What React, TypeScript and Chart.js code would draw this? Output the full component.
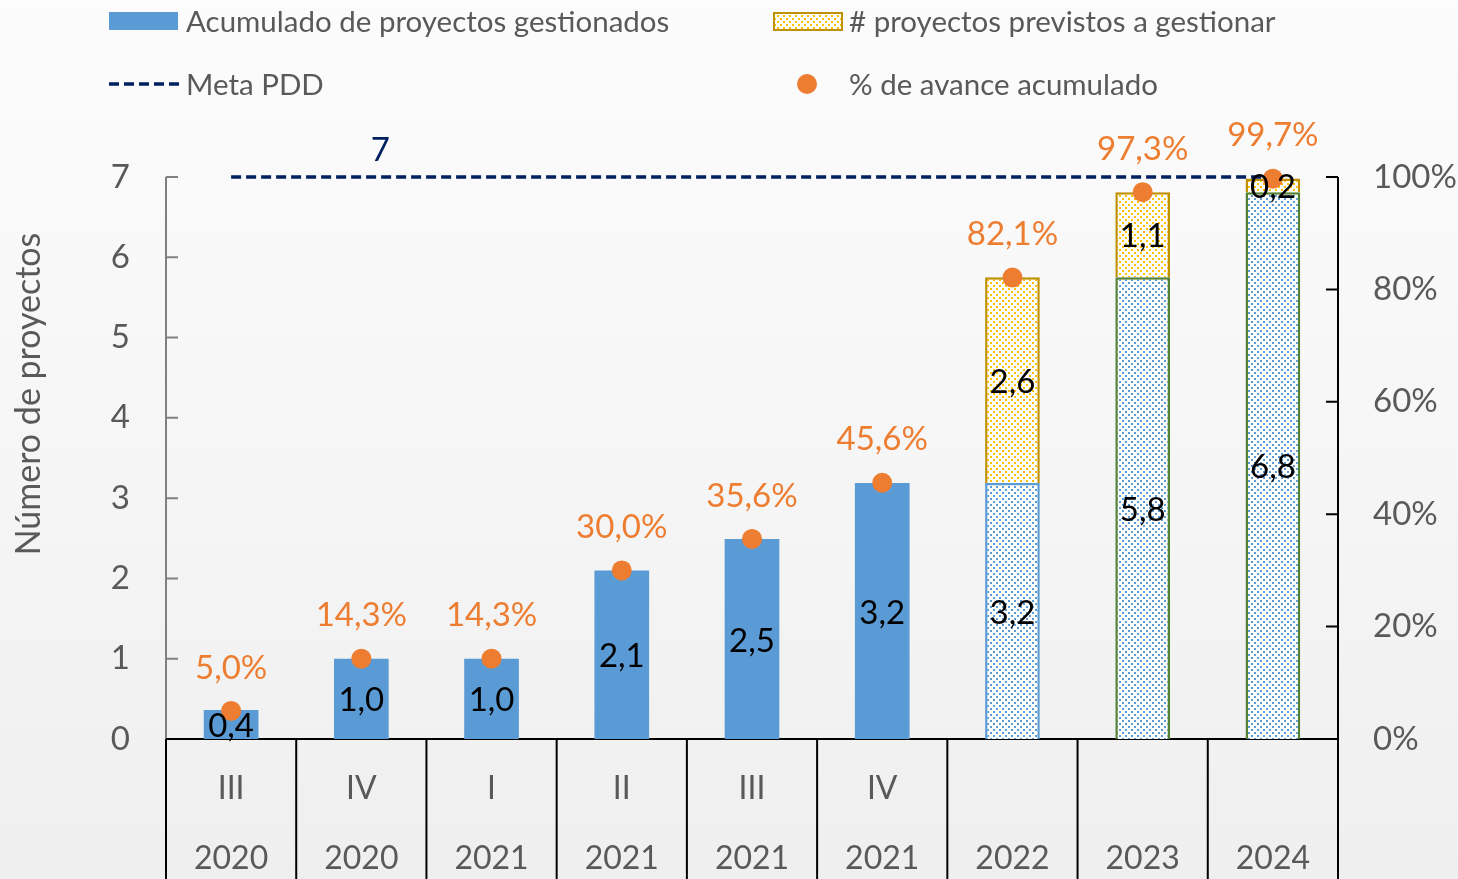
import { useEffect, useRef } from 'react';
import { Chart, registerables } from 'chart.js';

Chart.register(...registerables);

// ---- data ----
const quarters = ['III', 'IV', 'I', 'II', 'III', 'IV', '', '', ''];
const years = ['2020', '2020', '2021', '2021', '2021', '2021', '2022', '2023', '2024'];
const gestionados = [0.36, 1.0, 1.0, 2.1, 2.49, 3.19, 3.19, 5.75, 6.81];
const previstos: (number | null)[] = [null, null, null, null, null, null, 2.56, 1.06, 0.17];
const metaPDD = [7, 7, 7, 7, 7, 7, 7, 7, 7];
const avance = [5.0, 14.3, 14.3, 30.0, 35.6, 45.6, 82.1, 97.3, 99.7];
const leftTicks = [0, 1, 2, 3, 4, 5, 6, 7];
const rightTicks = [0, 20, 40, 60, 80, 100];
const metaLabel = '7';
const projectedFrom = 6; // first index drawn as projection

const FONT = 'Lato, "Noto Sans", sans-serif';
const GRAY = '#595959';
const BLUE = '#5B9BD5';
const ORANGE = '#ED7D31';
const NAVY = '#002060';
const YELLOW = '#FFC000';
const GOLD = '#BF9000';
const GREEN = '#548235';

const fmt = (v: number) => v.toFixed(1).replace('.', ',');

function makePattern(color: string): CanvasPattern {
  const c = document.createElement('canvas');
  c.width = 6;
  c.height = 6;
  const p = c.getContext('2d')!;
  p.fillStyle = '#ffffff';
  p.fillRect(0, 0, 6, 6);
  p.fillStyle = color;
  p.fillRect(0, 0, 2, 2);
  p.fillRect(3, 3, 2, 2);
  const ctx = document.createElement('canvas').getContext('2d')!;
  return ctx.createPattern(c, 'repeat')!;
}

export default function App() {
  const ref = useRef<HTMLCanvasElement>(null);

  useEffect(() => {
    document.body.style.margin = '0';
    const canvas = ref.current!;
    const bluePat = makePattern(BLUE);
    const yellowPat = makePattern(YELLOW);

    const customPlugin = {
      id: 'custom',
      beforeDraw(chart: any) {
        const { ctx, width, height } = chart;
        ctx.save();
        const g = ctx.createLinearGradient(0, 0, 0, height);
        g.addColorStop(0, '#fcfcfc');
        g.addColorStop(0.5, '#f6f6f6');
        g.addColorStop(1, '#efefef');
        ctx.fillStyle = g;
        ctx.fillRect(0, 0, width, height);
        ctx.restore();
      },
      beforeDatasetsDraw(chart: any) {
        const { ctx, chartArea, scales } = chart;
        const { left, right, top, bottom } = chartArea;
        ctx.save();
        // left axis
        ctx.strokeStyle = '#808080';
        ctx.lineWidth = 2;
        ctx.beginPath();
        ctx.moveTo(left, top);
        ctx.lineTo(left, bottom);
        leftTicks.forEach((t) => {
          const y = scales.y.getPixelForValue(t);
          ctx.moveTo(left, y);
          ctx.lineTo(left + 12, y);
        });
        ctx.stroke();
        // right axis
        ctx.strokeStyle = '#000000';
        ctx.beginPath();
        ctx.moveTo(right, top);
        ctx.lineTo(right, bottom);
        rightTicks.forEach((t) => {
          const y = scales.y1.getPixelForValue(t);
          ctx.moveTo(right, y);
          ctx.lineTo(right - 12, y);
        });
        ctx.stroke();
        // bottom axis + category separators
        ctx.beginPath();
        ctx.moveTo(left, bottom);
        ctx.lineTo(right, bottom);
        const n = years.length;
        const step = (right - left) / n;
        for (let i = 0; i <= n; i++) {
          const x = left + step * i;
          ctx.moveTo(x, bottom);
          ctx.lineTo(x, chart.height);
        }
        ctx.stroke();
        ctx.restore();
      },
      afterDatasetsDraw(chart: any) {
        const { ctx } = chart;
        ctx.save();
        ctx.textAlign = 'center';
        ctx.textBaseline = 'middle';
        // bar values
        ctx.font = `33px ${FONT}`;
        ctx.fillStyle = '#000000';
        [0, 1].forEach((di) => {
          const meta = chart.getDatasetMeta(di);
          const data = chart.data.datasets[di].data;
          meta.data.forEach((el: any, i: number) => {
            const v = data[i];
            if (v == null) return;
            ctx.fillText(fmt(v), el.x, (el.y + el.base) / 2 + 2);
          });
        });
        // meta label
        const lineMeta = chart.getDatasetMeta(2);
        const p1 = lineMeta.data[1];
        ctx.font = `33px ${FONT}`;
        ctx.fillStyle = NAVY;
        ctx.fillText(metaLabel, p1.x + 19, p1.y - 27);
        // percent labels
        const ptsMeta = chart.getDatasetMeta(3);
        ctx.fillStyle = ORANGE;
        ptsMeta.data.forEach((el: any, i: number) => {
          ctx.fillText(fmt(avance[i]) + '%', el.x, el.y - 43);
        });
        ctx.restore();
      },
      afterDraw(chart: any) {
        const { ctx } = chart;
        ctx.save();
        ctx.textBaseline = 'middle';
        ctx.textAlign = 'left';
        ctx.font = `29.5px ${FONT}`;
        // legend row 1
        ctx.fillStyle = BLUE;
        ctx.fillRect(109, 12, 69, 18);
        ctx.fillStyle = GRAY;
        ctx.fillText('Acumulado de proyectos gestionados', 186, 22);
        ctx.fillStyle = yellowPat;
        ctx.fillRect(774, 13, 68, 17);
        ctx.strokeStyle = GOLD;
        ctx.lineWidth = 2;
        ctx.strokeRect(774, 13, 68, 17);
        ctx.fillStyle = GRAY;
        ctx.fillText('# proyectos previstos a gestionar', 849, 22);
        // legend row 2
        ctx.strokeStyle = NAVY;
        ctx.lineWidth = 3.5;
        ctx.setLineDash([10, 5]);
        ctx.beginPath();
        ctx.moveTo(109, 84);
        ctx.lineTo(180, 84);
        ctx.stroke();
        ctx.setLineDash([]);
        ctx.fillText('Meta PDD', 186, 85);
        ctx.fillStyle = ORANGE;
        ctx.beginPath();
        ctx.arc(807, 84, 10, 0, Math.PI * 2);
        ctx.fill();
        ctx.fillStyle = GRAY;
        ctx.fillText('% de avance acumulado', 849, 85);
        // y title
        ctx.translate(29, 394);
        ctx.rotate(-Math.PI / 2);
        ctx.textAlign = 'center';
        ctx.font = `34px ${FONT}`;
        ctx.fillText('Número de proyectos', 0, 0);
        ctx.restore();
      },
    };

    const chart = new Chart(canvas, {
      type: 'bar',
      data: {
        labels: quarters.map((q, i) => [q, years[i]]),
        datasets: [
          {
            type: 'bar',
            label: 'Acumulado de proyectos gestionados',
            data: gestionados,
            stack: 'a',
            backgroundColor: gestionados.map((_, i) => (i < projectedFrom ? BLUE : bluePat)) as any,
            borderColor: gestionados.map((_, i) =>
              i < projectedFrom ? BLUE : i === projectedFrom ? BLUE : GREEN
            ),
            borderWidth: gestionados.map((_, i) => (i < projectedFrom ? 0 : 2.5)),
            barPercentage: 0.42,
            categoryPercentage: 1,
            yAxisID: 'y',
            order: 2,
          },
          {
            type: 'bar',
            label: '# proyectos previstos a gestionar',
            data: previstos,
            stack: 'a',
            backgroundColor: yellowPat as any,
            borderColor: GOLD,
            borderWidth: 2.5,
            barPercentage: 0.42,
            categoryPercentage: 1,
            yAxisID: 'y',
            order: 3,
          },
          {
            type: 'line',
            label: 'Meta PDD',
            data: metaPDD,
            stack: 'meta',
            borderColor: NAVY,
            borderWidth: 3.5,
            borderDash: [10, 5],
            borderCapStyle: 'butt',
            pointRadius: 0,
            fill: false,
            clip: false,
            yAxisID: 'y',
            order: 1,
          },
          {
            type: 'line',
            label: '% de avance acumulado',
            data: avance,
            showLine: false,
            pointRadius: 10,
            pointBackgroundColor: ORANGE,
            pointBorderWidth: 0,
            borderColor: ORANGE,
            clip: false,
            yAxisID: 'y1',
            order: 0,
          },
        ] as any,
      },
      options: {
        responsive: false,
        animation: false,
        layout: { padding: { top: 177, left: 0, right: 0, bottom: 0 } },
        plugins: { legend: { display: false }, tooltip: { enabled: false } },
        scales: {
          x: {
            stacked: true,
            offset: true,
            grid: { display: false },
            border: { display: false },
            ticks: {
              color: GRAY,
              font: { family: FONT, size: 32, lineHeight: 2.19 },
              padding: 7,
              autoSkip: false,
              maxRotation: 0,
            },
            afterFit: (s: any) => {
              s.height = 140;
            },
          },
          y: {
            stacked: true,
            min: 0,
            max: 7,
            grid: { display: false },
            border: { display: false },
            ticks: {
              stepSize: 1,
              color: GRAY,
              font: { family: FONT, size: 33 },
              padding: 28,
            },
            afterFit: (s: any) => {
              s.width = 166;
            },
          },
          y1: {
            position: 'right',
            min: 0,
            max: 100,
            grid: { display: false },
            border: { display: false },
            ticks: {
              stepSize: 20,
              color: GRAY,
              font: { family: FONT, size: 33 },
              padding: 27,
              callback: (v: any) => v + '%',
            },
            afterFit: (s: any) => {
              s.width = 120;
            },
          },
        },
      } as any,
      plugins: [customPlugin],
    });
    return () => chart.destroy();
  }, []);

  return (
    <div style={{ width: 1458, height: 879 }}>
      <canvas ref={ref} width={1458} height={879} style={{ display: 'block' }} />
    </div>
  );
}
